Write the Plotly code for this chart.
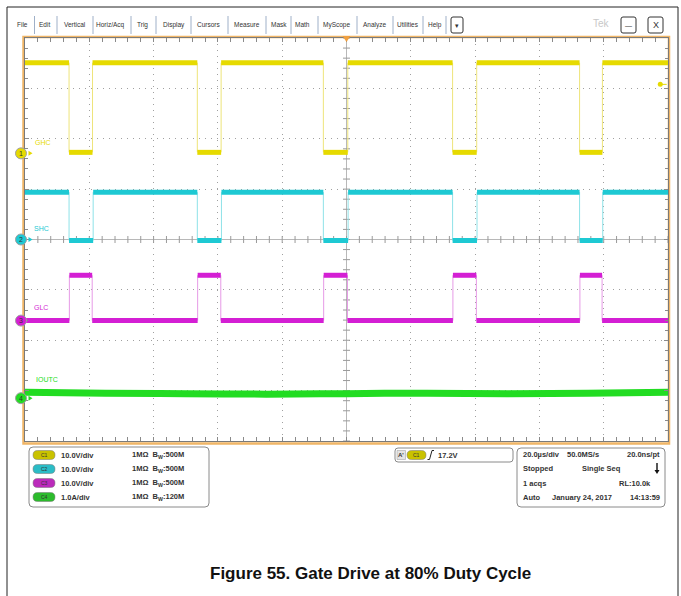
import numpy as np
import plotly.graph_objects as go

W, H = 681, 596
FONT = "Liberation Sans, Arial, sans-serif"

# time window of the scope, in microseconds (20 us/div, 10 div)
t_start, t_stop = -100.0, 100.0

# channel set-up
ch_names = ["C1", "C2", "C3", "C4"]
ch_labels = ["GHC", "SHC", "GLC", "IOUTC"]
ch_units_per_div = [10.0, 10.0, 10.0, 1.0]
ch_position_div = [1.71, 0.0, -1.61, -3.15]
ch_colors = ["#e6da00", "#1ec9d3", "#d41fd4", "#22dc22"]
ch_edge_colors = ["#eee47a", "#8ee2e8", "#e69ae6", "#8fec8f"]
ch_pill_colors = ["#c9c200", "#2bbcc6", "#bb2bbb", "#2cbb2c"]
ch_settings = ["10.0V/div", "10.0V/div", "10.0V/div", "1.0A/div"]
ch_bw = ["500M", "500M", "500M", "120M"]

# C1 GHC high-side gate (V)
ghc_low, ghc_high = 0.2, 18.0
ghc_falls = [-86.3, -46.4, -7.2, 33.0, 72.5]
ghc_rises = [-79.0, -39.0, 0.4, 40.5, 79.6]

# C2 SHC switch node (V)
shc_low, shc_high = -0.2, 9.4
shc_falls = [-86.3, -46.4, -7.2, 33.0, 72.5]
shc_rises = [-78.8, -38.9, 0.5, 40.6, 79.7]

# C3 GLC low-side gate (V)
glc_low, glc_high = 0.0, 9.0
glc_rises = [-86.2, -46.3, -7.1, 33.1, 72.6]
glc_falls = [-79.1, -39.1, 0.3, 40.4, 79.5]

# C4 IOUTC output current (A)
iout_t = [-100, -75, -50, -25, 0, 25, 50, 75, 100]
iout_a = [0.12, 0.10, 0.09, 0.08, 0.09, 0.10, 0.09, 0.10, 0.12]

trig_level_marker = 13.7  # where the C1 level arrow sits on screen

# graticule pixel box
GX0, GX1, GY0, GY1 = 25, 668, 38, 441
PX_PER_DIV = (GY1 - GY0) / 8


def px(x):
    return x / W


def py(y):
    return 1 - y / H


def square(start_high, high, low, edges):
    edges = sorted(edges)
    state = start_high
    lx, ly, ex, ey = [], [], [], []
    t0 = t_start
    for te in edges:
        v = high if state else low
        lx += [t0, te, None]
        ly += [v, v, None]
        ex += [te, te, None]
        ey += [high, low, None]
        state = not state
        t0 = te
    v = high if state else low
    lx += [t0, t_stop]
    ly += [v, v]
    return lx, ly, ex, ey


def rrect(x0, y0, x1, y1, r):
    a0, a1 = px(x0), px(x1)
    b0, b1 = py(y0), py(y1)
    rx, ry = r / W, r / H
    return (f"M{a0+rx},{b0} L{a1-rx},{b0} Q{a1},{b0} {a1},{b0-ry} "
            f"L{a1},{b1+ry} Q{a1},{b1} {a1-rx},{b1} L{a0+rx},{b1} "
            f"Q{a0},{b1} {a0},{b1+ry} L{a0},{b0-ry} Q{a0},{b0} {a0+rx},{b0} Z")


def label(x, y, text, size=7.5, color="#333", anchor="center", bold=False):
    return dict(x=px(x), y=py(y), xref="paper", yref="paper", text=text, showarrow=False,
                xanchor=anchor, yanchor="middle",
                font=dict(size=size, color=color, family=FONT,
                          weight="bold" if bold else "normal"))


fig = go.Figure()

# centre graticule ticks
tick_t = np.arange(-100, 100.1, 4)
tick_d = np.arange(-4, 4.01, 0.2)
fig.add_trace(go.Scatter(x=tick_t, y=[0] * len(tick_t), mode="markers", hoverinfo="skip",
                         marker=dict(symbol="line-ns", size=5, line=dict(color="#9a9a9a", width=1))))
fig.add_trace(go.Scatter(x=[0] * len(tick_d), y=tick_d, mode="markers", hoverinfo="skip",
                         marker=dict(symbol="line-ew", size=5, line=dict(color="#9a9a9a", width=1))))

waves = [
    square(True, ghc_high, ghc_low, ghc_falls + ghc_rises),
    square(True, shc_high, shc_low, shc_falls + shc_rises),
    square(False, glc_high, glc_low, glc_rises + glc_falls),
]
for i, (lx, ly, ex, ey) in enumerate(waves):
    ya = "y%d" % (i + 2)
    fig.add_trace(go.Scatter(x=ex, y=ey, mode="lines", yaxis=ya, hoverinfo="skip",
                             line=dict(color=ch_edge_colors[i], width=1)))
    fig.add_trace(go.Scatter(x=lx, y=ly, mode="lines", yaxis=ya, hoverinfo="skip",
                             line=dict(color=ch_colors[i], width=5)))
fig.add_trace(go.Scatter(x=iout_t, y=iout_a, mode="lines", yaxis="y5", hoverinfo="skip",
                         line=dict(color=ch_colors[3], width=7, shape="spline")))

# trigger level marker
fig.add_trace(go.Scatter(x=[97.6, 99.6], y=[trig_level_marker] * 2, mode="lines", yaxis="y2",
                         cliponaxis=False, hoverinfo="skip",
                         line=dict(color=ch_colors[0], width=1)))
fig.add_trace(go.Scatter(x=[97.6], y=[trig_level_marker], mode="markers", yaxis="y2",
                         cliponaxis=False, hoverinfo="skip",
                         marker=dict(symbol="circle", size=5, color=ch_colors[0])))

shapes = []
ann = []

# outer frame
shapes.append(dict(type="path", xref="paper", yref="paper",
                   path=f"M{px(7)},{py(596)} L{px(7)},{py(7)} L{px(678)},{py(7)} L{px(678)},{py(596)}",
                   line=dict(color="#222", width=1)))
# orange graticule frame
shapes.append(dict(type="rect", xref="paper", yref="paper", x0=px(23.5), x1=px(669),
                   y0=py(443.5), y1=py(37), line=dict(color="#f0b566", width=2.5), layer="below"))
# trigger position marker
shapes.append(dict(type="path", xref="paper", yref="paper",
                   path=f"M{px(342.5)},{py(36)} L{px(350.5)},{py(36)} L{px(346.5)},{py(42)} Z",
                   fillcolor="#f0a040", line=dict(width=0)))

# channel ground markers on the left edge (circle + arrow, placed at each channel's 0)
for i in range(4):
    ya = "y%d" % (i + 2)
    r = 5.5 / PX_PER_DIV * ch_units_per_div[i]
    a = 2.5 / PX_PER_DIV * ch_units_per_div[i]
    shapes.append(dict(type="path", xref="paper", yref=ya,
                       path=f"M{px(28.5)},{a} L{px(32.5)},0 L{px(28.5)},{-a} Z",
                       fillcolor=ch_colors[i], line=dict(width=0)))
    shapes.append(dict(type="circle", xref="paper", yref=ya, x0=px(15.5), x1=px(26.5),
                       y0=-r, y1=r, fillcolor=ch_colors[i], line=dict(color="#a0a0a0", width=1)))
    ann.append(dict(x=px(21), y=0, xref="paper", yref=ya, text=str(i + 1), showarrow=False,
                    xanchor="center", yanchor="middle",
                    font=dict(size=7, color="#333", family=FONT)))

# menu bar
menu_items = ["File", "Edit", "Vertical", "Horiz/Acq", "Trig", "Display", "Cursors", "Measure",
              "Mask", "Math", "MyScope", "Analyze", "Utilities", "Help"]
menu_x = [22.5, 44.5, 75, 110, 142, 174, 208.5, 247, 278.5, 302.5, 336.5, 375, 407.5, 435]
menu_sep = [34.5, 57, 93, 131, 156, 191, 228, 266, 291, 318, 357, 393, 423, 446]
for name, x in zip(menu_items, menu_x):
    ann.append(label(x, 25, name, size=6.5))
for x in menu_sep:
    shapes.append(dict(type="line", xref="paper", yref="paper", x0=px(x), x1=px(x),
                       y0=py(16), y1=py(34), line=dict(color="#9fb0c8", width=1)))
for (x0, x1, sym) in [(451, 463, "▾"), (621, 636, "—"), (648, 663, "X")]:
    shapes.append(dict(type="path", xref="paper", yref="paper", path=rrect(x0, 17, x1, 33, 2),
                       line=dict(color="#333", width=1), fillcolor="white"))
    ann.append(label((x0 + x1) / 2, 25.5, sym, size=9 if sym == "X" else 7))
ann.append(label(601, 24, "Tek", size=10, color="#c8c8c8"))

# channel labels
label_pos = [(33, 143), (32, 228.5), (32, 307.5), (34, 379.5)]
for i, (x, y) in enumerate(label_pos):
    ann.append(label(x, y, ch_labels[i], size=7, color=ch_colors[i], anchor="left"))

# channel settings panel
shapes.append(dict(type="path", xref="paper", yref="paper", path=rrect(29, 447, 209, 507, 4),
                   line=dict(color="#8a8a8a", width=1), fillcolor="white"))
row_y = [455, 469, 483, 497]
for i in range(4):
    y = row_y[i]
    shapes.append(dict(type="path", xref="paper", yref="paper", path=rrect(33, y - 4.5, 55, y + 4.5, 4.5),
                       line=dict(color="#777", width=0.5), fillcolor=ch_pill_colors[i]))
    ann.append(label(44, y, ch_names[i], size=5))
    ann.append(label(59, y, ch_settings[i], anchor="left", bold=True))
    ann.append(label(130, y, "1MΩ  B<sub>W</sub>:" + ch_bw[i], anchor="left", bold=True))

# trigger panel
shapes.append(dict(type="path", xref="paper", yref="paper", path=rrect(395, 448, 513, 462, 3),
                   line=dict(color="#8a8a8a", width=1), fillcolor="white"))
shapes.append(dict(type="rect", xref="paper", yref="paper", x0=px(397), x1=px(405.5),
                   y0=py(459.5), y1=py(450.5), line=dict(color="#999", width=0.5), fillcolor="#e4e4e4"))
ann.append(label(401.2, 455, "A'", size=6, bold=True))
shapes.append(dict(type="path", xref="paper", yref="paper", path=rrect(407, 450.5, 426, 459.5, 4.5),
                   line=dict(color="#777", width=0.5), fillcolor=ch_pill_colors[0]))
ann.append(label(416.5, 455, "C1", size=5))
shapes.append(dict(type="path", xref="paper", yref="paper",
                   path=f"M{px(427.5)},{py(459.5)} L{px(429.5)},{py(459.5)} L{px(432)},{py(450.5)} L{px(434)},{py(450.5)}",
                   line=dict(color="#222", width=1)))
ann.append(label(435.5, 455, "17.2V", anchor="left", bold=True))

# timebase / acquisition panel
shapes.append(dict(type="path", xref="paper", yref="paper", path=rrect(517, 448, 665, 507, 4),
                   line=dict(color="#8a8a8a", width=1), fillcolor="white"))
acq_rows = [
    [("20.0µs/div", 521, "left"), ("50.0MS/s", 565, "left"), ("20.0ns/pt", 662, "right")],
    [("Stopped", 521, "left"), ("Single Seq", 580, "left")],
    [("1 acqs", 521, "left"), ("RL:10.0k", 653, "right")],
    [("Auto", 521, "left"), ("January 24, 2017", 550, "left"), ("14:13:59", 662, "right")],
]
acq_y = [454, 468.5, 483, 497]
for row, y in zip(acq_rows, acq_y):
    for text, x, anchor in row:
        ann.append(label(x, y, text, anchor=anchor, bold=True))
# single-seq arrow
shapes.append(dict(type="path", xref="paper", yref="paper",
                   path=(f"M{px(656.3)},{py(463)} L{px(657.7)},{py(463)} L{px(657.7)},{py(470)} "
                         f"L{px(659.5)},{py(470)} L{px(657)},{py(474)} L{px(654.5)},{py(470)} "
                         f"L{px(656.3)},{py(470)} Z"),
                   fillcolor="#111", line=dict(width=0)))

# caption
ann.append(label(370, 573, "Figure 55. Gate Drive at 80% Duty Cycle", size=17, color="#111", bold=True))

ydom = [py(GY1), py(GY0)]
fig.update_layout(
    width=W, height=H,
    margin=dict(l=0, r=0, t=0, b=0),
    paper_bgcolor="white", plot_bgcolor="white",
    showlegend=False,
    shapes=shapes, annotations=ann,
    xaxis=dict(domain=[px(GX0), px(GX1)], range=[t_start, t_stop], dtick=20,
               showticklabels=False, showgrid=True, gridcolor="#a0a0a0", griddash="1px,5px",
               zeroline=True, zerolinecolor="#b8b8b8", zerolinewidth=1,
               showline=True, linecolor="#7a7a7a", linewidth=1, mirror="allticks",
               ticks="inside", ticklen=4, tickcolor="#8a8a8a",
               minor=dict(dtick=4, ticks="inside", ticklen=3, tickcolor="#8a8a8a", showgrid=False)),
    yaxis=dict(domain=ydom, range=[-4, 4], dtick=1,
               showticklabels=False, showgrid=True, gridcolor="#a0a0a0", griddash="1px,5px",
               zeroline=True, zerolinecolor="#b8b8b8", zerolinewidth=1,
               showline=True, linecolor="#7a7a7a", linewidth=1, mirror="allticks",
               ticks="inside", ticklen=4, tickcolor="#8a8a8a",
               minor=dict(dtick=0.2, ticks="inside", ticklen=3, tickcolor="#8a8a8a", showgrid=False)),
)
for i in range(4):
    s, p = ch_units_per_div[i], ch_position_div[i]
    fig.layout["yaxis%d" % (i + 2)] = dict(domain=ydom, overlaying="y", visible=False,
                                           range=[(-4 - p) * s, (4 - p) * s])

# the page's default body margin would push the figure 8px off; drop it
fig.write_html("out.html", config={"displayModeBar": False},
               post_script="document.body.style.margin='0px';")
